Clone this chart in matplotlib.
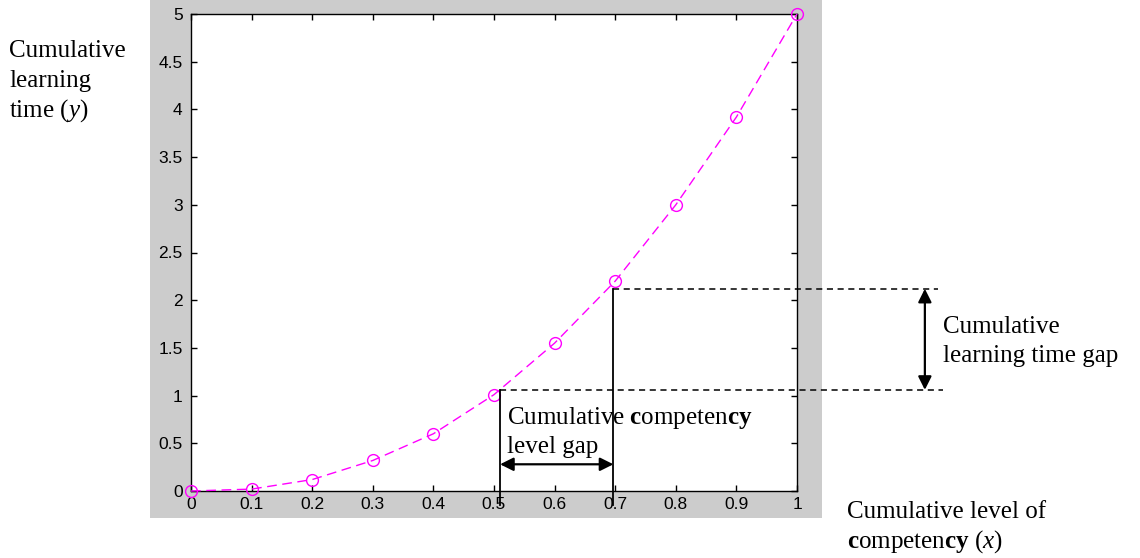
import matplotlib
matplotlib.use("Agg")
import matplotlib.pyplot as plt
import matplotlib.patches as patches
from matplotlib.ticker import FormatStrFormatter

# datos
competency = [0.0, 0.1, 0.2, 0.3, 0.4, 0.5, 0.6, 0.7, 0.8, 0.9, 1.0]
learning_time = [0.0, 0.02, 0.12, 0.32, 0.6, 1.01, 1.55, 2.2, 3.0, 3.92, 5.0]

x_ticks = [0, 0.1, 0.2, 0.3, 0.4, 0.5, 0.6, 0.7, 0.8, 0.9, 1]
y_ticks = [0, 0.5, 1, 1.5, 2, 2.5, 3, 3.5, 4, 4.5, 5]

# brecha de competencia y de tiempo
level_gap = [0.51, 0.697]
time_gap = [1.06, 2.12]

plt.rcParams['mathtext.fontset'] = 'custom'
plt.rcParams['mathtext.rm'] = 'Liberation Serif'
plt.rcParams['mathtext.it'] = 'Liberation Serif:italic'
plt.rcParams['mathtext.bf'] = 'Liberation Serif:bold'

W, H = 1140, 558
fig = plt.figure(figsize=(W / 100, H / 100), dpi=100)
fig.patch.set_facecolor('white')

# fondo gris tipo MATLAB
fig.patches.append(patches.Rectangle((150 / W, 1 - 518 / H), (822 - 150) / W, 518 / H,
                                     transform=fig.transFigure, facecolor='#cccccc',
                                     edgecolor='none', zorder=-1))

ax = fig.add_axes([191 / W, 1 - 491 / H, (797 - 191) / W, (491 - 14) / H])
ax.set_facecolor('white')

ax.plot(competency, learning_time, color='#ff00ff', lw=1.0, dashes=(7, 4),
        marker='o', markersize=8.5, markerfacecolor='none', markeredgewidth=1.0,
        clip_on=False, zorder=3)

ax.set_xlim(0, 1)
ax.set_ylim(0, 5)
ax.set_xticks(x_ticks)
ax.set_yticks(y_ticks)
ax.xaxis.set_major_formatter(FormatStrFormatter('%g'))
ax.yaxis.set_major_formatter(FormatStrFormatter('%g'))
ax.tick_params(direction='in', length=4, width=1, top=True, right=True, labelsize=12.5)
ax.tick_params(axis='x', pad=4)
ax.tick_params(axis='y', pad=6)
for lab in ax.get_xticklabels() + ax.get_yticklabels():
    lab.set_fontfamily('Liberation Sans')
for sp in ax.spines.values():
    sp.set_linewidth(1.0)

# lineas de la brecha
ax.plot([level_gap[1], 1.233], [time_gap[1], time_gap[1]], color='k', lw=1.1,
        dashes=(4, 3), clip_on=False, zorder=4)
ax.plot([level_gap[0], 1.241], [time_gap[0], time_gap[0]], color='k', lw=1.1,
        dashes=(4, 3), clip_on=False, zorder=4)
ax.plot([level_gap[0], level_gap[0]], [time_gap[0], -0.15], color='k', lw=1.3,
        clip_on=False, zorder=4)
ax.plot([level_gap[1], level_gap[1]], [time_gap[1], -0.15], color='k', lw=1.3,
        clip_on=False, zorder=4)

arrow = dict(arrowstyle='<|-|>', mutation_scale=20, lw=1.6, color='k',
             shrinkA=0, shrinkB=0)
ax.annotate('', xy=(level_gap[0], 0.28), xytext=(level_gap[1], 0.28),
            arrowprops=arrow, annotation_clip=False)
ax.annotate('', xy=(1.211, time_gap[0]), xytext=(1.211, time_gap[1]),
            arrowprops=arrow, annotation_clip=False)


# textos: una linea por llamada para que el interlineado sea igual
def put_lines(x, y0, lines, step=30):
    for i, s in enumerate(lines):
        fig.text(x / W, 1 - (y0 + i * step) / H, s, fontfamily='Liberation Serif',
                 fontsize=18, va='baseline', ha='left')


put_lines(9, 57, ["Cumulative", "learning", "time ($y$)"])
put_lines(507, 424, ["Cumulative $\\mathbf{c}$ompeten$\\mathbf{cy}$", "level gap"], step=29)
put_lines(943, 333, ["Cumulative", "learning time gap"], step=29)
put_lines(847, 518, ["Cumulative level of", "$\\mathbf{c}$ompeten$\\mathbf{cy}$ ($x$)"])

fig.savefig('out.png', dpi=100)
